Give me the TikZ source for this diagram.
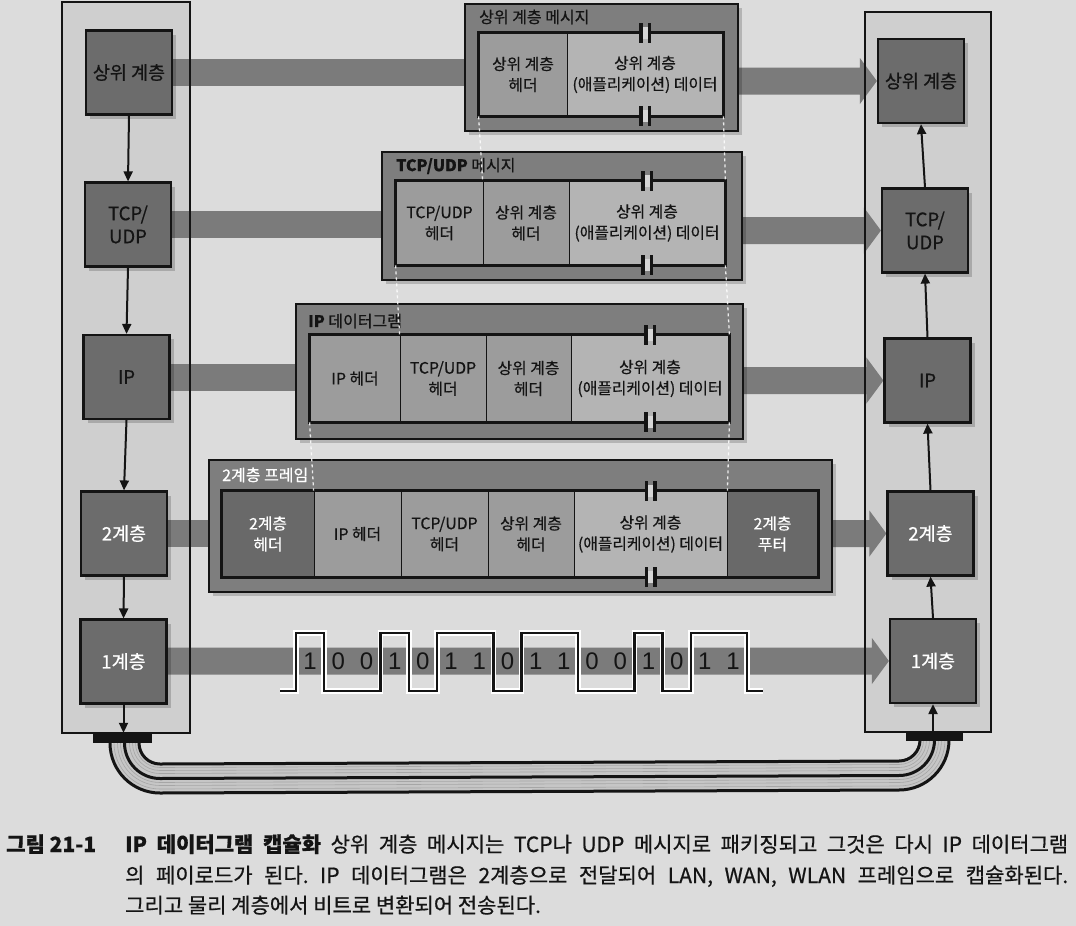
\documentclass[tikz,border=0pt]{standalone}
\usepackage{fontspec}
\setmainfont{Noto Sans CJK KR}[FakeBold=0.6]
\newfontfamily\digitfont{Liberation Sans}
\usetikzlibrary{arrows.meta,calc,shadows}
\definecolor{pagebg}{HTML}{DCDCDC}
\definecolor{panelc}{HTML}{CFCFCF}
\definecolor{boxc}{HTML}{6C6C6C}
\definecolor{bandc}{HTML}{7B7B7B}
\definecolor{outerc}{HTML}{7E7E7E}
\definecolor{hdrc}{HTML}{9C9C9C}
\definecolor{datac}{HTML}{B4B4B4}
\definecolor{ltwo}{HTML}{696969}
\definecolor{inkc}{HTML}{141414}
\definecolor{cablec}{HTML}{C6C6C6}
\pgfdeclarelayer{layzero}
\pgfdeclarelayer{layone}
\pgfsetlayers{layzero,layone,main}
\frenchspacing
\newcommand\brkmark[1]{%
  \fill[datac!55!white] ($(#1)+(-2.5,-6)$) rectangle ($(#1)+(2.5,6)$);
  \fill[inkc] ($(#1)+(-6,-10)$) rectangle ($(#1)+(-2.5,10)$);
  \fill[inkc] ($(#1)+(2.5,-10)$) rectangle ($(#1)+(6,10)$);}
\newcommand\rightband[2]{%
  \fill[bandc] ($(#1.east|-#2.west)+(0,-13.5)$) -- ($(#2.west)+(-17,-13.5)$) -- ($(#2.west)+(-17,-23)$) -- (#2.west) -- ($(#2.west)+(-17,23)$) -- ($(#2.west)+(-17,13.5)$) -- ($(#1.east|-#2.west)+(0,13.5)$) -- cycle;}
\newcommand\cablepath[1]{(160-#1,743) .. controls (160-#1,743+0.5523*#1) and (160-0.5523*#1,743+#1) .. (160,743+#1) -- (899,740+#1) .. controls (899+0.5523*#1,740+#1) and (899+#1,740+0.5523*#1) .. (899+#1,740)}
\begin{document}
\begin{tikzpicture}[x=1pt,y=-1pt,
  every node/.style={inner sep=0pt},
  sh/.style={general shadow={fill=black, opacity=0.18, shadow xshift=4pt, shadow yshift=-4pt}},
  panel/.style={draw=inkc, line width=2pt},
  lbox/.style={draw=inkc, line width=2.2pt, fill=boxc, minimum width=86pt, minimum height=84pt, align=center, font=\fontsize{18.5}{23}\selectfont, sh},
  msgbox/.style={draw=inkc, line width=2pt, fill=outerc, sh},
  cell/.style={draw=inkc, line width=0.8pt, align=center, font=\fontsize{15.8}{21}\selectfont, text=inkc},
  hdr/.style={cell, fill=hdrc},
  dat/.style={cell, fill=datac},
  ltw/.style={cell, fill=ltwo, text=white},
  title/.style={anchor=west, font=\fontsize{16}{19}\selectfont},
  band/.style={draw=bandc, line width=27pt},
  arr/.style={draw=inkc, line width=2pt, -{Triangle[length=10pt,width=9pt]}},
  guide/.style={draw=white, line width=1.3pt, dash pattern=on 3pt off 3pt, opacity=0.85},
  inner/.style={draw=inkc, line width=2.6pt}
]
\useasboundingbox (0,0) rectangle (1076,926);

% panels
\node[panel, minimum width=128pt, minimum height=731pt] (LP) at (126,367.5) {};
\node[panel, minimum width=126pt, minimum height=720pt] (RP) at (928,372) {};

% message box 1
\node[msgbox, minimum width=273pt, minimum height=127pt] (M1) at (601.5,67.5) {};
\node[hdr, minimum width=88pt, minimum height=83pt] (M1a) at (523,74.5) {상위 계층\\헤더};
\node[dat, minimum width=156pt, minimum height=83pt] (M1b) at (645,74.5) {상위 계층\\(애플리케이션) 데이터};
\draw[inner] (M1a.north west) rectangle (M1b.south east);
\brkmark{M1b.north}\brkmark{M1b.south}
\node[title, text=inkc] (T1) at (479,17) {상위 계층 메시지};

% message box 2
\node[msgbox, minimum width=360pt, minimum height=128pt] (M2) at (562,216) {};
\node[hdr, minimum width=87pt, minimum height=84pt] (M2a) at (439.5,223) {TCP/UDP\\헤더};
\node[hdr, minimum width=86pt, minimum height=84pt] (M2b) at (526,223) {상위 계층\\헤더};
\node[dat, minimum width=156pt, minimum height=84pt] (M2c) at (647,223) {상위 계층\\(애플리케이션) 데이터};
\draw[inner] (M2a.north west) rectangle (M2c.south east);
\brkmark{M2c.north}\brkmark{M2c.south}
\node[title, text=inkc] (T2) at (396,166) {\textbf{TCP/UDP} 메시지};

% message box 3
\node[msgbox, minimum width=447pt, minimum height=135pt] (M3) at (519.5,371.5) {};
\node[hdr, minimum width=90pt, minimum height=87pt] (M3a) at (355,378.5) {IP 헤더};
\node[hdr, minimum width=86pt, minimum height=87pt] (M3b) at (443,378.5) {TCP/UDP\\헤더};
\node[hdr, minimum width=85pt, minimum height=87pt] (M3c) at (528.5,378.5) {상위 계층\\헤더};
\node[dat, minimum width=158pt, minimum height=87pt] (M3d) at (650,378.5) {상위 계층\\(애플리케이션) 데이터};
\draw[inner] (M3a.north west) rectangle (M3d.south east);
\brkmark{M3d.north}\brkmark{M3d.south}
\node[title, text=inkc] (T3) at (308,321) {\textbf{IP} 데이터그램};

% message box 4
\node[msgbox, minimum width=623pt, minimum height=132pt] (M4) at (520.5,526) {};
\node[ltw, minimum width=92pt, minimum height=86pt] (M4a) at (268,534) {2계층\\헤더};
\node[hdr, minimum width=87pt, minimum height=86pt] (M4b) at (357.5,534) {IP 헤더};
\node[hdr, minimum width=87pt, minimum height=86pt] (M4c) at (444.5,534) {TCP/UDP\\헤더};
\node[hdr, minimum width=86pt, minimum height=86pt] (M4d) at (531,534) {상위 계층\\헤더};
\node[dat, minimum width=153pt, minimum height=86pt] (M4e) at (650.5,534) {상위 계층\\(애플리케이션) 데이터};
\node[ltw, minimum width=91pt, minimum height=86pt] (M4f) at (772.5,534) {2계층\\푸터};
\draw[inner] (M4a.north west) rectangle (M4f.south east);
\brkmark{M4e.north}\brkmark{M4e.south}
\node[title, text=white] (T4) at (222,475) {2계층 프레임};

% guides
\draw[guide] (M1a.south west) -- (M2b.north west);
\draw[guide] (M1b.south east) -- (M2c.north east);
\draw[guide] (M2a.south west) -- (M3b.north west);
\draw[guide] (M2c.south east) -- (M3d.north east);
\draw[guide] (M3a.south west) -- (M4b.north west);
\draw[guide] (M3d.south east) -- (M4e.north east);

% left layer boxes
\node[lbox, text=inkc] (L1) at (129,72.5) {상위 계층};
\node[lbox, text=inkc] (L2) at (128,224.5) {TCP/\\UDP};
\node[lbox, text=inkc] (L3) at (126.5,377) {IP};
\node[lbox, text=white] (L4) at (124,533.5) {2계층};
\node[lbox, text=white] (L5) at (123.5,661.5) {1계층};
% right layer boxes
\node[lbox, text=inkc] (R1) at (921,81) {상위 계층};
\node[lbox, text=inkc] (R2) at (925,230.5) {TCP/\\UDP};
\node[lbox, text=inkc] (R3) at (927.5,380.5) {IP};
\node[lbox, text=white] (R4) at (930.5,533.5) {2계층};
\node[lbox, text=white] (R5) at (933,661) {1계층};

% bands
\begin{pgfonlayer}{layone}
\draw[band] (L1.east) -- (L1.east -| M1.west);
\draw[band] (L2.east) -- (L2.east -| M2.west);
\draw[band] (L3.east) -- (L3.east -| M3.west);
\draw[band] (L4.east) -- (L4.east -| M4.west);
\rightband{M1}{R1}
\rightband{M2}{R2}
\rightband{M3}{R3}
\rightband{M4}{R4}
\rightband{L5}{R5}
\end{pgfonlayer}
\begin{pgfonlayer}{layzero}
\fill[pagebg] (0,0) rectangle (1076,926);
\fill[panelc] (LP.north west) rectangle (LP.south east);
\fill[panelc] (RP.north west) rectangle (RP.south east);
\end{pgfonlayer}

% signal
\draw[white, line width=5.5pt] (280,691) -- (296,691) -- (296,633) -- (324.2,633) -- (324.2,691) -- (380.6,691) -- (380.6,633) -- (408.8,633) -- (408.8,691) -- (437,691) -- (437,633) -- (493.4,633) -- (493.4,691) -- (521.6,691) -- (521.6,633) -- (578,633) -- (578,691) -- (634.4,691) -- (634.4,633) -- (662.6,633) -- (662.6,691) -- (690.8,691) -- (690.8,633) -- (747.2,633) -- (747.2,691) -- (763,691);
\draw[inkc, line width=2.4pt] (280,691) -- (296,691) -- (296,633) -- (324.2,633) -- (324.2,691) -- (380.6,691) -- (380.6,633) -- (408.8,633) -- (408.8,691) -- (437,691) -- (437,633) -- (493.4,633) -- (493.4,691) -- (521.6,691) -- (521.6,633) -- (578,633) -- (578,691) -- (634.4,691) -- (634.4,633) -- (662.6,633) -- (662.6,691) -- (690.8,691) -- (690.8,633) -- (747.2,633) -- (747.2,691) -- (763,691);
\foreach \b [count=\i from 0] in {1,0,0,1,0,1,1,0,1,1,0,0,1,0,1,1}
  \node[font=\digitfont\fontsize{24}{24}\selectfont, text=inkc] (bit\i) at ({296+(\i+0.5)*28.2},661) {\b};

% cables
\draw[cablec, line width=29pt] \cablepath{35.5};
\foreach \r in {24.5,27.5,30.5,39.5,42.5,46}
  \draw[black!35, line width=0.6pt] \cablepath{\r};
\foreach \r in {21,35.5,50}
  \draw[inkc, line width=3pt] \cablepath{\r};
\node[fill=inkc, minimum width=59pt, minimum height=10pt] (LC) at (122.5,738) {};
\node[fill=inkc, minimum width=57pt, minimum height=9pt] (RC) at (934.5,736.5) {};

% vertical arrows
\draw[arr] (L1.south) -- (L2.north);
\draw[arr] (L2.south) -- (L3.north);
\draw[arr] (L3.south) -- (L4.north);
\draw[arr] (L4.south) -- (L5.north);
\draw[arr] (L5.south) -- (L5.south |- LC.north);
\draw[arr] (R5.south |- RC.north) -- (R5.south);
\draw[arr] (R5.north) -- (R4.south);
\draw[arr] (R4.north) -- (R3.south);
\draw[arr] (R3.north) -- (R2.south);
\draw[arr] (R2.north) -- (R1.south);

% caption
\node[anchor=base west, font=\fontsize{21}{24}\selectfont\bfseries, text=inkc] (fig) at (6,852) {그림 21-1};
\node[anchor=base west, font=\fontsize{21}{24}\selectfont, text=inkc] (cap1) at (125,852) {\makebox[943pt][s]{\textbf{IP 데이터그램 캡슐화} 상위 계층 메시지는 TCP나 UDP 메시지로 패키징되고 그것은 다시 IP 데이터그램}};
\node[anchor=base west, font=\fontsize{21}{24}\selectfont, text=inkc] (cap2) at (125,883) {\makebox[943pt][s]{의 페이로드가 된다. IP 데이터그램은 2계층으로 전달되어 LAN, WAN, WLAN 프레임으로 캡슐화된다.}};
\node[anchor=base west, font=\fontsize{21}{24}\selectfont, text=inkc] (cap3) at (125,913) {그리고 물리 계층에서 비트로 변환되어 전송된다.};
\end{tikzpicture}
\end{document}
